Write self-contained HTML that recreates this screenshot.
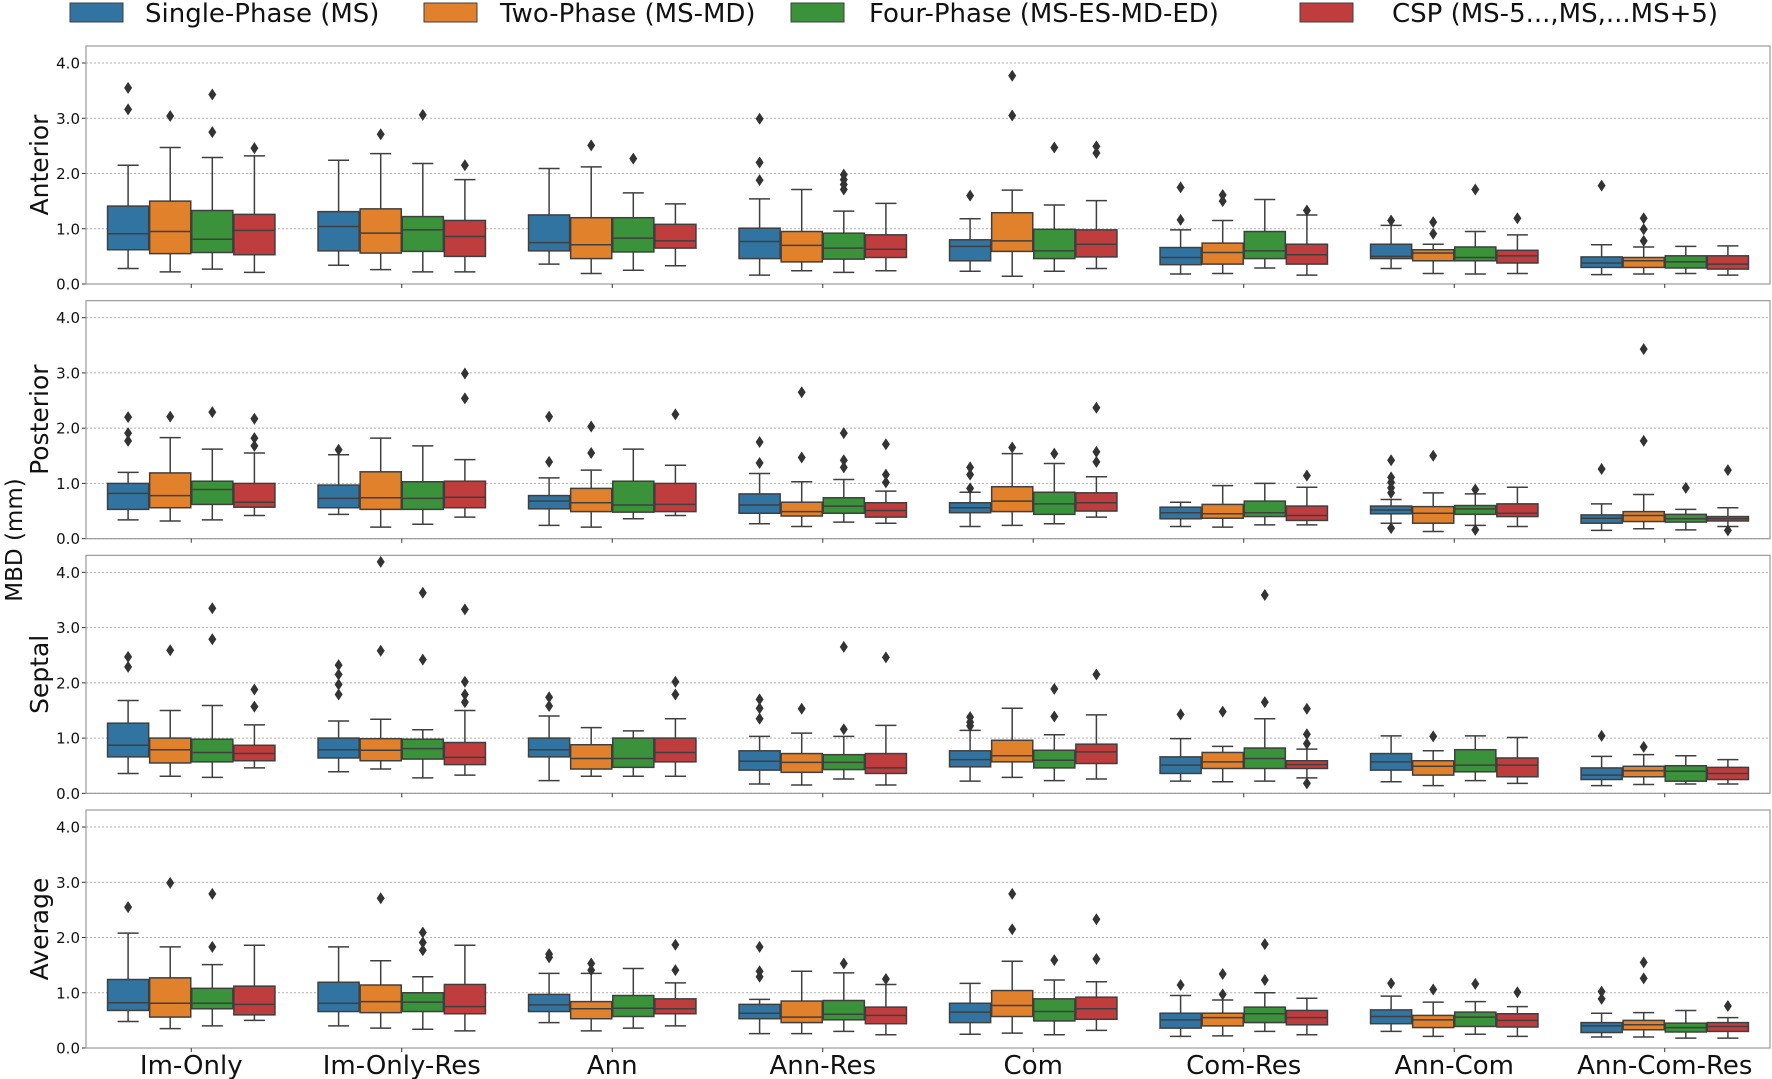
<!DOCTYPE html>
<html><head><meta charset="utf-8"><style>
html,body{margin:0;padding:0;background:#fff;}
svg{display:block;font-family:"DejaVu Sans","Liberation Sans",sans-serif;}
</style></head><body>
<svg id="chart" width="1772" height="1079" viewBox="0 0 1772 1079" xmlns="http://www.w3.org/2000/svg"></svg>
<script>
const categories = ["Im-Only","Im-Only-Res","Ann","Ann-Res","Com","Com-Res","Ann-Com","Ann-Com-Res"];
const seriesNames = ["Single-Phase (MS)","Two-Phase (MS-MD)","Four-Phase (MS-ES-MD-ED)","CSP (MS-5...,MS,...MS+5)"];
const seriesColors = ["#3274a1","#e1812c","#3a923a","#c03d3e"];
const regions = ["Anterior","Posterior","Septal","Average"];
const yTicks = [0,1,2,3,4];
const yTickLabels = ["0.0","1.0","2.0","3.0","4.0"];

// each entry: [whiskerLow, q1, median, q3, whiskerHigh] per category
const anteriorSingle = [[0.28,0.62,0.91,1.41,2.15],[0.34,0.60,1.04,1.31,2.24],[0.36,0.60,0.75,1.25,2.09],[0.16,0.46,0.77,1.01,1.54],[0.23,0.42,0.68,0.80,1.18],[0.18,0.35,0.48,0.66,0.98],[0.28,0.46,0.50,0.72,1.06],[0.17,0.30,0.38,0.49,0.71]];
const anteriorTwo = [[0.22,0.55,0.95,1.50,2.47],[0.26,0.56,0.92,1.36,2.36],[0.19,0.46,0.71,1.20,2.12],[0.24,0.40,0.70,0.95,1.71],[0.14,0.59,0.78,1.29,1.70],[0.19,0.36,0.57,0.74,1.15],[0.19,0.42,0.56,0.62,0.72],[0.18,0.30,0.42,0.48,0.67]];
const anteriorFour = [[0.27,0.57,0.81,1.33,2.29],[0.22,0.59,0.98,1.22,2.18],[0.25,0.58,0.83,1.20,1.65],[0.21,0.45,0.65,0.92,1.32],[0.23,0.46,0.60,0.99,1.43],[0.29,0.46,0.60,0.95,1.53],[0.18,0.42,0.48,0.67,0.95],[0.19,0.29,0.40,0.51,0.68]];
const anteriorCsp = [[0.21,0.53,0.97,1.26,2.32],[0.22,0.50,0.86,1.15,1.89],[0.33,0.65,0.78,1.08,1.45],[0.24,0.48,0.63,0.89,1.46],[0.28,0.49,0.72,0.98,1.51],[0.16,0.36,0.53,0.72,1.25],[0.19,0.38,0.51,0.61,0.89],[0.16,0.27,0.36,0.51,0.69]];
const anteriorSingleOut = [[3.55,3.16],[],[],[2.99,2.20,1.88],[1.60],[1.75,1.16],[1.15],[1.78]];
const anteriorTwoOut = [[3.04],[2.71],[2.51],[],[3.77,3.05],[1.61,1.50],[1.12,0.91],[1.19,0.99,0.78]];
const anteriorFourOut = [[3.43,2.75],[3.06],[2.27],[1.98,1.89,1.80,1.71],[2.47],[],[1.71],[]];
const anteriorCspOut = [[2.46],[2.15],[],[],[2.49,2.37],[1.33],[1.19],[]];

const posteriorSingle = [[0.34,0.53,0.82,1.00,1.20],[0.44,0.56,0.73,0.97,1.52],[0.24,0.54,0.68,0.78,1.10],[0.27,0.46,0.61,0.81,1.18],[0.22,0.47,0.56,0.65,0.84],[0.22,0.36,0.47,0.57,0.66],[0.28,0.45,0.52,0.59,0.71],[0.15,0.28,0.37,0.43,0.63]];
const posteriorTwo = [[0.32,0.56,0.78,1.19,1.83],[0.21,0.53,0.74,1.21,1.82],[0.21,0.49,0.65,0.91,1.24],[0.22,0.41,0.49,0.66,1.03],[0.24,0.49,0.68,0.94,1.54],[0.21,0.37,0.45,0.62,0.96],[0.13,0.28,0.46,0.58,0.83],[0.18,0.31,0.42,0.49,0.80]];
const posteriorFour = [[0.34,0.62,0.89,1.04,1.62],[0.26,0.53,0.73,1.03,1.68],[0.36,0.48,0.61,1.04,1.62],[0.30,0.46,0.59,0.74,1.07],[0.27,0.44,0.63,0.84,1.36],[0.25,0.40,0.47,0.68,1.00],[0.24,0.44,0.54,0.60,0.81],[0.16,0.30,0.36,0.44,0.53]];
const posteriorCsp = [[0.42,0.57,0.66,1.00,1.55],[0.39,0.56,0.75,1.04,1.43],[0.42,0.49,0.62,1.00,1.33],[0.28,0.39,0.51,0.65,0.86],[0.39,0.50,0.65,0.83,1.12],[0.25,0.33,0.42,0.59,0.93],[0.22,0.40,0.46,0.63,0.93],[0.22,0.32,0.36,0.40,0.56]];
const posteriorSingleOut = [[2.20,1.91,1.77],[1.61],[2.21,1.39],[1.75,1.37],[1.29,1.16,0.91],[],[1.42,1.11,1.02,0.92,0.83,0.19],[1.26]];
const posteriorTwoOut = [[2.21],[],[2.03,1.55],[2.65,1.47],[1.65],[],[1.50],[3.43,1.77]];
const posteriorFourOut = [[2.29],[],[],[1.91,1.42,1.29],[1.54],[],[0.89,0.16],[0.92]];
const posteriorCspOut = [[2.17,1.82,1.68],[2.99,2.54],[2.25],[1.71,1.16,1.02],[2.37,1.57,1.39],[1.14],[],[1.24,0.15]];

const septalSingle = [[0.36,0.66,0.87,1.27,1.68],[0.39,0.64,0.79,1.00,1.31],[0.23,0.66,0.79,1.00,1.40],[0.17,0.42,0.58,0.77,1.03],[0.22,0.48,0.61,0.77,1.14],[0.22,0.36,0.51,0.66,0.99],[0.21,0.42,0.57,0.72,1.04],[0.14,0.25,0.33,0.46,0.67]];
const septalTwo = [[0.31,0.55,0.79,1.00,1.50],[0.44,0.59,0.78,0.99,1.34],[0.31,0.44,0.63,0.88,1.19],[0.15,0.38,0.56,0.72,1.09],[0.29,0.57,0.68,0.96,1.54],[0.21,0.45,0.57,0.74,0.85],[0.14,0.33,0.49,0.59,0.77],[0.16,0.30,0.41,0.49,0.70]];
const septalFour = [[0.29,0.57,0.74,0.98,1.59],[0.28,0.62,0.81,0.98,1.15],[0.31,0.47,0.63,1.00,1.13],[0.26,0.43,0.56,0.70,1.03],[0.23,0.46,0.60,0.78,1.06],[0.22,0.45,0.63,0.82,1.35],[0.23,0.39,0.51,0.79,1.04],[0.17,0.22,0.40,0.50,0.68]];
const septalCsp = [[0.46,0.59,0.72,0.87,1.24],[0.33,0.52,0.65,0.92,1.50],[0.31,0.57,0.74,1.00,1.35],[0.15,0.36,0.46,0.72,1.23],[0.26,0.54,0.75,0.89,1.42],[0.28,0.45,0.52,0.59,0.80],[0.18,0.30,0.51,0.64,1.01],[0.17,0.25,0.36,0.47,0.61]];
const septalSingleOut = [[2.47,2.29],[2.32,2.15,1.97,1.79],[1.74,1.58],[1.70,1.54,1.35],[1.38,1.29,1.22],[1.43],[],[1.04]];
const septalTwoOut = [[2.59],[4.19,2.58],[],[1.53],[],[1.48],[1.03],[0.84]];
const septalFourOut = [[3.35,2.79],[3.63,2.42],[],[2.65,1.16],[1.89,1.39],[3.59,1.65],[],[]];
const septalCspOut = [[1.88,1.57],[3.33,2.02,1.79,1.65],[2.02,1.79],[2.46],[2.15],[1.53,1.07,0.90,0.18],[],[]];

const averageSingle = [[0.48,0.68,0.82,1.24,2.08],[0.40,0.66,0.81,1.19,1.83],[0.46,0.66,0.78,0.97,1.35],[0.26,0.53,0.63,0.79,0.88],[0.25,0.46,0.65,0.81,1.17],[0.21,0.36,0.51,0.63,0.95],[0.30,0.44,0.57,0.69,0.94],[0.20,0.28,0.40,0.46,0.63]];
const averageTwo = [[0.35,0.56,0.81,1.27,1.83],[0.36,0.64,0.84,1.14,1.58],[0.31,0.53,0.71,0.84,1.35],[0.26,0.46,0.56,0.85,1.39],[0.27,0.57,0.77,1.04,1.57],[0.22,0.40,0.55,0.63,0.87],[0.21,0.37,0.51,0.59,0.83],[0.20,0.33,0.42,0.50,0.64]];
const averageFour = [[0.40,0.71,0.81,1.08,1.51],[0.34,0.66,0.83,1.00,1.29],[0.36,0.57,0.72,0.95,1.44],[0.30,0.51,0.61,0.86,1.36],[0.24,0.49,0.66,0.89,1.23],[0.30,0.46,0.62,0.74,1.00],[0.25,0.39,0.56,0.65,0.84],[0.18,0.29,0.37,0.45,0.68]];
const averageCsp = [[0.50,0.60,0.79,1.12,1.86],[0.31,0.62,0.75,1.15,1.86],[0.40,0.62,0.71,0.89,1.18],[0.24,0.44,0.59,0.74,1.15],[0.32,0.52,0.71,0.92,1.20],[0.24,0.42,0.55,0.68,0.90],[0.21,0.38,0.50,0.62,0.75],[0.18,0.30,0.39,0.46,0.55]];
const averageSingleOut = [[2.55],[],[1.70,1.64],[1.83,1.39,1.29],[],[1.14],[1.17],[1.02,0.89]];
const averageTwoOut = [[2.99],[2.71],[1.53,1.41],[],[2.79,2.15],[1.34,0.97],[1.06],[1.55,1.26]];
const averageFourOut = [[2.79,1.83],[2.09,1.91,1.77],[],[1.53],[1.59],[1.88,1.23],[1.16],[]];
const averageCspOut = [[],[],[1.87,1.41],[1.25],[2.33,1.61],[],[1.01],[0.76]];

const regionStats = [[anteriorSingle,anteriorTwo,anteriorFour,anteriorCsp],[posteriorSingle,posteriorTwo,posteriorFour,posteriorCsp],[septalSingle,septalTwo,septalFour,septalCsp],[averageSingle,averageTwo,averageFour,averageCsp]];
const regionOut = [[anteriorSingleOut,anteriorTwoOut,anteriorFourOut,anteriorCspOut],[posteriorSingleOut,posteriorTwoOut,posteriorFourOut,posteriorCspOut],[septalSingleOut,septalTwoOut,septalFourOut,septalCspOut],[averageSingleOut,averageTwoOut,averageFourOut,averageCspOut]];

const NS = "http://www.w3.org/2000/svg";
const svg = document.getElementById("chart");
function mk(tag, attrs, parent){const e=document.createElementNS(NS,tag);for(const k in attrs)e.setAttribute(k,attrs[k]);(parent||svg).appendChild(e);return e;}

const X0 = 86, X1 = 1770, PH = 238, PSTEP = 254.67, PTOP0 = 46, UNIT = 55.25;
const catW = (X1-X0)/categories.length;
const boxW = catW*0.8/4;
function xCat(i){return X0 + catW*(i+0.5);}
function xBox(i,s){return xCat(i) - catW*0.4 + boxW*(s+0.5);}
function panelTop(p){return PTOP0 + PSTEP*p;}
function yScale(p,v){return panelTop(p) + PH - v*UNIT;}

// legend
seriesNames.forEach((n,s)=>{
  const px=[70,424,791,1300][s], tx=[145,500,869,1392][s];
  const g = mk("g",{});
  
  
  const r = mk("rect",{x:px,y:3,width:53,height:19,fill:seriesColors[s],stroke:"#3f3f3f","stroke-width":1},g);
  
  
  const t = mk("text",{x:tx,y:22,"font-size":26,fill:"#111"},g);
  
  
  t.textContent = n;
});

// overall y label
const yl = mk("text",{x:0,y:0,"font-size":23,fill:"#111","text-anchor":"middle",transform:"translate(22,540) rotate(-90)"});


yl.textContent = "MBD (mm)";

regions.forEach((reg,p)=>{
  const top = panelTop(p);
  const g = mk("g",{});
  
  
  yTicks.forEach((v,k)=>{
    const y = yScale(p,v);
    const gl = mk("line",{x1:X0,x2:X1,y1:y,y2:y,stroke:"#b0b0b0","stroke-width":1,"stroke-dasharray":"2,2"},g);
    
    
    const tk = mk("line",{x1:X0-4,x2:X0,y1:y,y2:y,stroke:"#333","stroke-width":1},g);
    
    
    const tl = mk("text",{x:X0-6,y:y+5.5,"font-size":15,"text-anchor":"end",fill:"#111"},g);
    
    
    tl.textContent = yTickLabels[k];
  });
  const fr = mk("rect",{x:X0,y:top,width:X1-X0,height:PH,fill:"none",stroke:"#9a9a9a","stroke-width":1.2},g);
  
  
  const rl = mk("text",{x:0,y:0,"font-size":25,fill:"#111","text-anchor":"middle",transform:`translate(48,${top+PH/2}) rotate(-90)`},g);
  
  
  rl.textContent = reg;
  categories.forEach((c,i)=>{
    const xt = mk("line",{x1:xCat(i),x2:xCat(i),y1:top+PH,y2:top+PH+4,stroke:"#333","stroke-width":1},g);
    
    
    for(let s=0;s<4;s++){
      const st = regionStats[p][s][i];
      const cx = xBox(i,s);
      const bg = mk("g",{},g);
      
      
      const cap = boxW/4;
      mk("line",{x1:cx,x2:cx,y1:yScale(p,st[0]),y2:yScale(p,st[1]),stroke:"#3f3f3f","stroke-width":1.5},bg);
      mk("line",{x1:cx,x2:cx,y1:yScale(p,st[3]),y2:yScale(p,st[4]),stroke:"#3f3f3f","stroke-width":1.5},bg);
      mk("line",{x1:cx-cap,x2:cx+cap,y1:yScale(p,st[0]),y2:yScale(p,st[0]),stroke:"#3f3f3f","stroke-width":1.5},bg);
      mk("line",{x1:cx-cap,x2:cx+cap,y1:yScale(p,st[4]),y2:yScale(p,st[4]),stroke:"#3f3f3f","stroke-width":1.5},bg);
      mk("rect",{x:cx-boxW/2+0.5,y:yScale(p,st[3]),width:boxW-1,height:yScale(p,st[1])-yScale(p,st[3]),fill:seriesColors[s],stroke:"#3f3f3f","stroke-width":1.5},bg);
      mk("line",{x1:cx-boxW/2+0.5,x2:cx+boxW/2-0.5,y1:yScale(p,st[2]),y2:yScale(p,st[2]),stroke:"#3f3f3f","stroke-width":1.5},bg);
      regionOut[p][s][i].forEach(v=>{
        const oy = yScale(p,v);
        const d = mk("path",{d:`M${cx} ${oy-6}L${cx+4} ${oy}L${cx} ${oy+6}L${cx-4} ${oy}Z`,fill:"#333"},bg);
        
        
      });
    }
    if(p===regions.length-1){
      const xl = mk("text",{x:xCat(i),y:1074,"font-size":26,"text-anchor":"middle",fill:"#111"},g);
      
      
      xl.textContent = c;
    }
  });
});
</script>
</body></html>
